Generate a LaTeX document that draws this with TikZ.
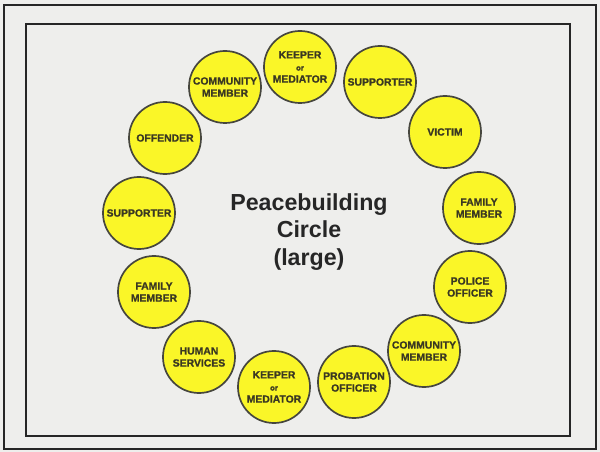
\documentclass[tikz,border=0pt]{standalone}
\usepackage{fontspec}
\setmainfont{Liberation Sans}
\newfontfamily\rolefont[FakeBold=1.2]{Liberation Sans Bold}
\definecolor{paper}{RGB}{238,238,236}
\definecolor{disc}{RGB}{250,246,40}
\definecolor{rim}{RGB}{70,70,62}
\definecolor{ink}{RGB}{58,56,34}
\tikzset{
  role/.style={circle, draw=rim, fill=disc, line width=1.2pt, minimum size=1.8cm,
    inner sep=0pt, align=center, text=ink, font=\rolefont\fontsize{7.4}{8.6}\selectfont},
  frame/.style={draw=black!85, line width=1.3pt},
}
\newcommand{\orsmall}{{\fontsize{5.5}{6.5}\selectfont or}}
\begin{document}
\begin{tikzpicture}[x=.025cm, y=-.025cm]

\useasboundingbox (0,0) rectangle (600,452);
\fill[paper] (0,0) rectangle (600,452);
\draw[frame] (4,5) rectangle (596,449);
\draw[frame] (26,24) rectangle (570,436);

\node[font=\fontsize{16.5}{19.5}\selectfont\bfseries, text=black!85, align=center] (title) at (309,232) {Peacebuilding\\Circle\\(large)};

\node[role] (keepertop) at (300,67) {KEEPER\\\orsmall\\MEDIATOR};
\node[role] (supportertop) at (380,82) {SUPPORTER};
\node[role] (victim) at (445,132) {VICTIM};
\node[role] (familyright) at (479,208) {FAMILY\\MEMBER};
\node[role] (police) at (470,287) {POLICE\\OFFICER};
\node[role] (communityright) at (424,351) {COMMUNITY\\MEMBER};
\node[role] (probation) at (354,382) {PROBATION\\OFFICER};
\node[role] (keeperbottom) at (274,387) {KEEPER\\\orsmall\\MEDIATOR};
\node[role] (human) at (199,357) {HUMAN\\SERVICES};
\node[role] (familyleft) at (154,292) {FAMILY\\MEMBER};
\node[role] (supporterleft) at (139,213) {SUPPORTER};
\node[role] (offender) at (165,138) {OFFENDER};
\node[role] (communitytop) at (225,87) {COMMUNITY\\MEMBER};
\end{tikzpicture}
\end{document}
